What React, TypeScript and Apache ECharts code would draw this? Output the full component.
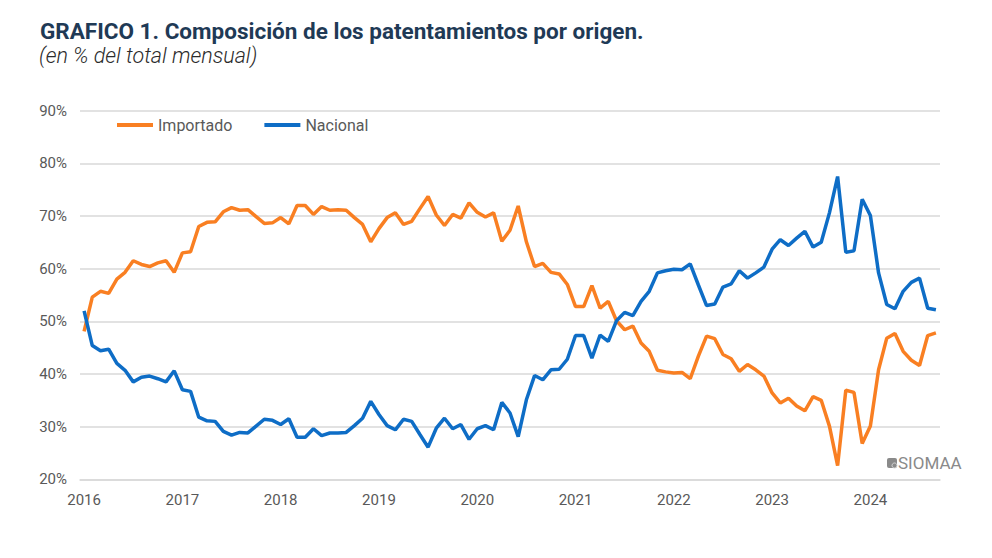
import React, { useEffect, useRef } from "react";
import * as echarts from "echarts";

const years = [2016, 2017, 2018, 2019, 2020, 2021, 2022, 2023, 2024];
const months = ["01", "02", "03", "04", "05", "06", "07", "08", "09", "10", "11", "12"];

const importado = [
  48.1, 54.6, 55.7, 55.3, 58.0, 59.3, 61.5, 60.8, 60.4, 61.1, 61.5, 59.3,
  63.0, 63.2, 68.0, 68.8, 68.9, 70.8, 71.6, 71.1, 71.2, 69.9, 68.6, 68.7,
  69.7, 68.5, 72.0, 72.0, 70.3, 71.8, 71.1, 71.2, 71.1, 69.7, 68.4, 65.1,
  67.6, 69.7, 70.6, 68.4, 69.0, 71.4, 73.7, 70.2, 68.2, 70.3, 69.6, 72.5,
  70.7, 69.8, 70.6, 65.2, 67.3, 71.9, 65.1, 60.4, 61.0, 59.3, 59.0, 57.0,
  52.8, 52.8, 56.8, 52.5, 53.8, 50.1, 48.4, 49.1, 45.9, 44.3, 40.7, 40.4,
  40.2, 40.3, 39.1, 43.4, 47.2, 46.7, 43.7, 42.9, 40.5, 41.8, 40.8, 39.6,
  36.4, 34.5, 35.4, 33.9, 33.0, 35.7, 35.0, 30.1, 22.6, 36.9, 36.5, 26.8,
  30.1, 40.8, 46.8, 47.7, 44.3, 42.6, 41.6, 47.3, 47.8,
];

const nacional = [
  52.0, 45.4, 44.4, 44.7, 42.0, 40.7, 38.5, 39.4, 39.6, 39.1, 38.5, 40.6,
  37.0, 36.7, 31.8, 31.1, 31.0, 29.1, 28.4, 28.9, 28.8, 30.1, 31.4, 31.2,
  30.4, 31.5, 28.0, 28.0, 29.6, 28.3, 28.8, 28.8, 28.9, 30.2, 31.6, 34.8,
  32.3, 30.2, 29.4, 31.4, 31.0, 28.5, 26.1, 29.7, 31.6, 29.6, 30.4, 27.6,
  29.6, 30.2, 29.4, 34.6, 32.6, 28.1, 35.1, 39.7, 38.9, 40.8, 40.9, 42.8,
  47.3, 47.3, 43.0, 47.4, 46.2, 50.1, 51.7, 51.1, 53.8, 55.7, 59.2, 59.6,
  59.9, 59.8, 60.9, 56.9, 53.0, 53.3, 56.5, 57.1, 59.6, 58.2, 59.2, 60.3,
  63.7, 65.5, 64.4, 65.8, 67.1, 64.1, 65.0, 70.6, 77.5, 63.1, 63.4, 73.2,
  70.1, 59.2, 53.2, 52.4, 55.7, 57.4, 58.2, 52.5, 52.2,
];

const yTicks = { min: 20, max: 90, interval: 10 };

const categories: string[] = [];
years.forEach((y) => months.forEach((m) => categories.push(`${y}-${m}`)));
const cats = categories.slice(0, importado.length);

const ORANGE = "#F97F22";
const BLUE = "#0E6DC6";

export default function App() {
  const ref = useRef<HTMLDivElement>(null);
  useEffect(() => {
    if (!ref.current) return;
    const chart = echarts.init(ref.current, null, { renderer: "svg" });
    chart.setOption({
      animation: false,
      backgroundColor: "#ffffff",
      textStyle: { fontFamily: "Roboto" },
      title: [
        {
          text: "GRAFICO 1. Composición de los patentamientos por origen.",
          left: 40,
          top: 19,
          padding: 0,
          textStyle: { fontFamily: "Roboto", fontSize: 22.5, fontWeight: "bold", color: "#1F3A56" },
        },
        {
          text: "(en % del total mensual)",
          left: 39,
          top: 44,
          padding: 0,
          textStyle: { fontFamily: "Roboto", fontSize: 21.5, fontStyle: "italic", fontWeight: 300, color: "#2B2B2B" },
        },
      ],
      legend: {
        left: 117,
        top: 117,
        padding: 0,
        icon: "rect",
        itemWidth: 36,
        itemHeight: 4,
        itemGap: 32,
        textStyle: { fontFamily: "Roboto", fontSize: 16, color: "#595959" },
        data: ["Importado", "Nacional"],
      },
      grid: { left: 80, right: 52, top: 110.7, bottom: 78.7, containLabel: false },
      xAxis: {
        type: "category",
        data: cats,
        boundaryGap: true,
        axisLine: { show: true, lineStyle: { color: "#D9D9D9", width: 1.5 } },
        axisTick: { show: false },
        axisLabel: {
          interval: (idx: number) => idx % 12 === 0,
          formatter: (v: string) => v.slice(0, 4),
          fontFamily: "Roboto",
          fontSize: 15,
          color: "#595959",
          margin: 13,
        },
        splitLine: { show: false },
      },
      yAxis: {
        type: "value",
        min: yTicks.min,
        max: yTicks.max,
        interval: yTicks.interval,
        axisLine: { show: false },
        axisTick: { show: false },
        axisLabel: {
          formatter: "{value}%",
          fontFamily: "Roboto",
          fontSize: 15,
          color: "#595959",
          margin: 13,
        },
        splitLine: { lineStyle: { color: "#D9D9D9", width: 1.5 } },
      },
      series: [
        {
          name: "Importado",
          type: "line",
          data: importado,
          symbol: "none",
          lineStyle: { color: ORANGE, width: 3.5 },
          itemStyle: { color: ORANGE },
          z: 3,
        },
        {
          name: "Nacional",
          type: "line",
          data: nacional,
          symbol: "none",
          lineStyle: { color: BLUE, width: 3.5 },
          itemStyle: { color: BLUE },
          z: 4,
        },
      ],
      graphic: [
        {
          type: "rect",
          left: 887,
          top: 458,
          shape: { width: 10, height: 10, r: 2 },
          style: { fill: "#8A8A8A" },
        },
        {
          type: "circle",
          left: 889.5,
          top: 460.5,
          shape: { r: 2.5 },
          style: { fill: "none", stroke: "#D8D8D8", lineWidth: 1 },
        },
        {
          type: "text",
          left: 898,
          top: 454,
          style: { text: "SIOMAA", fontFamily: "Roboto", fontSize: 17, fill: "#8A8A8A" },
        },
      ],
    });
    return () => chart.dispose();
  }, []);
  return (
    <div
      ref={ref}
      style={{ position: "fixed", left: 0, top: 0, width: 992, height: 558 }}
    />
  );
}
